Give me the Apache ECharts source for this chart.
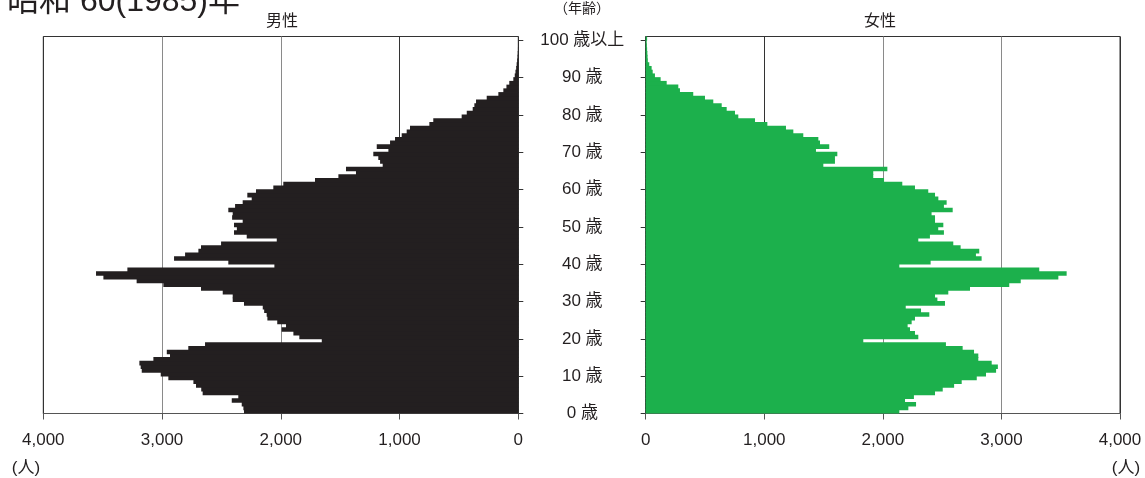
<!DOCTYPE html>
<html><head><meta charset="utf-8">
<script src="https://cdn.jsdelivr.net/npm/echarts@6/dist/echarts.min.js"></script>
<style>html,body{margin:0;padding:0;background:#fff}#c{width:1145px;height:478px}</style>
</head><body><div id="c"></div>
<script>
// Age categories 0..100 (100 = 100歳以上)
const ages = Array.from({length: 101}, (_, i) => String(i));
// Male population by single year of age (index = age)
const male = [
  2310, 2315, 2329, 2413, 2358, 2658, 2670, 2714, 2736, 2947,
  3011, 3171, 3180, 3191, 3073, 2933, 2960, 2779, 2638, 1655,
  1844, 1894, 1993, 1956, 2030, 2113, 2119, 2140, 2152, 2310,
  2405, 2405, 2489, 2672, 2989, 3214, 3494, 3556, 3292, 2054,
  2442, 2899, 2806, 2694, 2672, 2503, 2034, 2287, 2394, 2370,
  2394, 2321, 2410, 2405, 2442, 2385, 2321, 2245, 2282, 2209,
  2063, 1979, 1712, 1515, 1367, 1451, 1142, 1164, 1179, 1221,
  1094, 1192, 1080, 1038, 982, 940, 912, 749, 716, 477,
  434, 384, 370, 356, 266, 168, 126, 100, 76, 42,
  30, 24, 18, 14, 10, 7, 5, 3, 2, 1,
  1
];
// Female population by single year of age (index = age)
const female = [
  2139, 2215, 2280, 2187, 2262, 2440, 2505, 2601, 2665, 2792,
  2870, 2955, 2970, 2918, 2805, 2805, 2769, 2673, 2532, 1835,
  2299, 2271, 2229, 2209, 2243, 2271, 2392, 2322, 2193, 2524,
  2460, 2440, 2552, 2735, 3066, 3163, 3480, 3550, 3319, 2139,
  2403, 2833, 2785, 2813, 2656, 2594, 2299, 2397, 2515, 2467,
  2510, 2440, 2440, 2411, 2589, 2515, 2538, 2468, 2440, 2383,
  2271, 2164, 2010, 1919, 1919, 2038, 1498, 1596, 1596, 1616,
  1436, 1548, 1470, 1456, 1329, 1245, 1183, 1026, 922, 781,
  753, 683, 641, 570, 500, 401, 289, 275, 177, 126,
  78, 59, 50, 30, 18, 16, 14, 12, 10, 8,
  12
];
const popTickLabels = ['0', '1,000', '2,000', '3,000', '4,000'];
const ageTickLabels = ['0 歳','10 歳','20 歳','30 歳','40 歳','50 歳','60 歳','70 歳','80 歳','90 歳','100 歳以上'];

const FONT = '"Liberation Sans","Noto Sans CJK JP",sans-serif';
const TOP = 36.5, BOT = 413.5, H = BOT - TOP, BAND = H / 101;
const ML = 43.3, MW = 475, FL = 645.7, FW = 474.3;
const splitColors = ['#333', '#333', '#8a8a8a', '#8a8a8a', '#333'];
const TXT = '#231f20';

function popAxis(grid, inverse) {
  return {
    gridIndex: grid, type: 'value', min: 0, max: 4000, interval: 1000, inverse: inverse,
    axisLine: {show: true, onZero: false, lineStyle: {color: '#555', width: 1}},
    axisTick: {show: true, length: 6, lineStyle: {color: '#555'}},
    axisLabel: {margin: 18, fontSize: 17, color: TXT, fontFamily: FONT,
      formatter: v => popTickLabels[Math.round(v / 1000)]},
    splitLine: {show: true, lineStyle: {color: splitColors, width: 1}}
  };
}
function ageAxis(grid, pos, showLabel) {
  return {
    gridIndex: grid, type: 'value', min: 0, max: 100, interval: 10, position: pos,
    axisLine: {show: false, onZero: false},
    axisTick: {show: true, length: 5, lineStyle: {color: '#333'}},
    splitLine: {show: false},
    axisLabel: {show: showLabel, margin: 64, align: 'center', fontSize: 17, color: TXT, fontFamily: FONT,
      formatter: v => ageTickLabels[Math.round(v / 10)]}
  };
}
function bars(idx, data, color) {
  return {type: 'bar', xAxisIndex: idx, yAxisIndex: idx, data: data, barWidth: BAND + 0.8,
    barCategoryGap: '0%', itemStyle: {color: color}, silent: true};
}

const chart = echarts.init(document.getElementById('c'));
chart.setOption({
  animation: false,
  grid: [
    {left: ML, top: TOP, width: MW, height: H, show: true, borderColor: '#333', borderWidth: 1},
    {left: FL, top: TOP, width: FW, height: H, show: true, borderColor: '#333', borderWidth: 1},
    {left: ML, top: TOP + BAND, width: MW, height: H - BAND},
    {left: FL, top: TOP + BAND, width: FW, height: H - BAND}
  ],
  xAxis: [
    popAxis(0, true),
    popAxis(1, false),
    {gridIndex: 2, type: 'value', show: false, min: 0, max: 1},
    {gridIndex: 3, type: 'value', show: false, min: 0, max: 1}
  ],
  yAxis: [
    {gridIndex: 0, type: 'category', data: ages, show: false},
    {gridIndex: 1, type: 'category', data: ages, show: false},
    ageAxis(2, 'right', true),
    ageAxis(3, 'left', false)
  ],
  series: [
    bars(0, male, '#231f20'),
    bars(1, female, '#1cb04c')
  ],
  graphic: [
    {type: 'text', left: 7, top: -14, style: {text: '昭和 60(1985)年', font: '32px ' + FONT, fill: TXT}},
    {type: 'text', style: {x: 282, y: 22, text: '男性', textAlign: 'center', textVerticalAlign: 'middle', font: '16px ' + FONT, fill: TXT}},
    {type: 'text', style: {x: 880, y: 22, text: '女性', textAlign: 'center', textVerticalAlign: 'middle', font: '16px ' + FONT, fill: TXT}},
    {type: 'text', style: {x: 582, y: 9, text: '（年齢）', textAlign: 'center', textVerticalAlign: 'middle', font: '14px ' + FONT, fill: TXT}},
    {type: 'text', style: {x: 26, y: 468, text: '(人)', textAlign: 'center', textVerticalAlign: 'middle', font: '17px ' + FONT, fill: TXT}},
    {type: 'text', style: {x: 1126, y: 468, text: '(人)', textAlign: 'center', textVerticalAlign: 'middle', font: '17px ' + FONT, fill: TXT}}
  ]
});
</script></body></html>
